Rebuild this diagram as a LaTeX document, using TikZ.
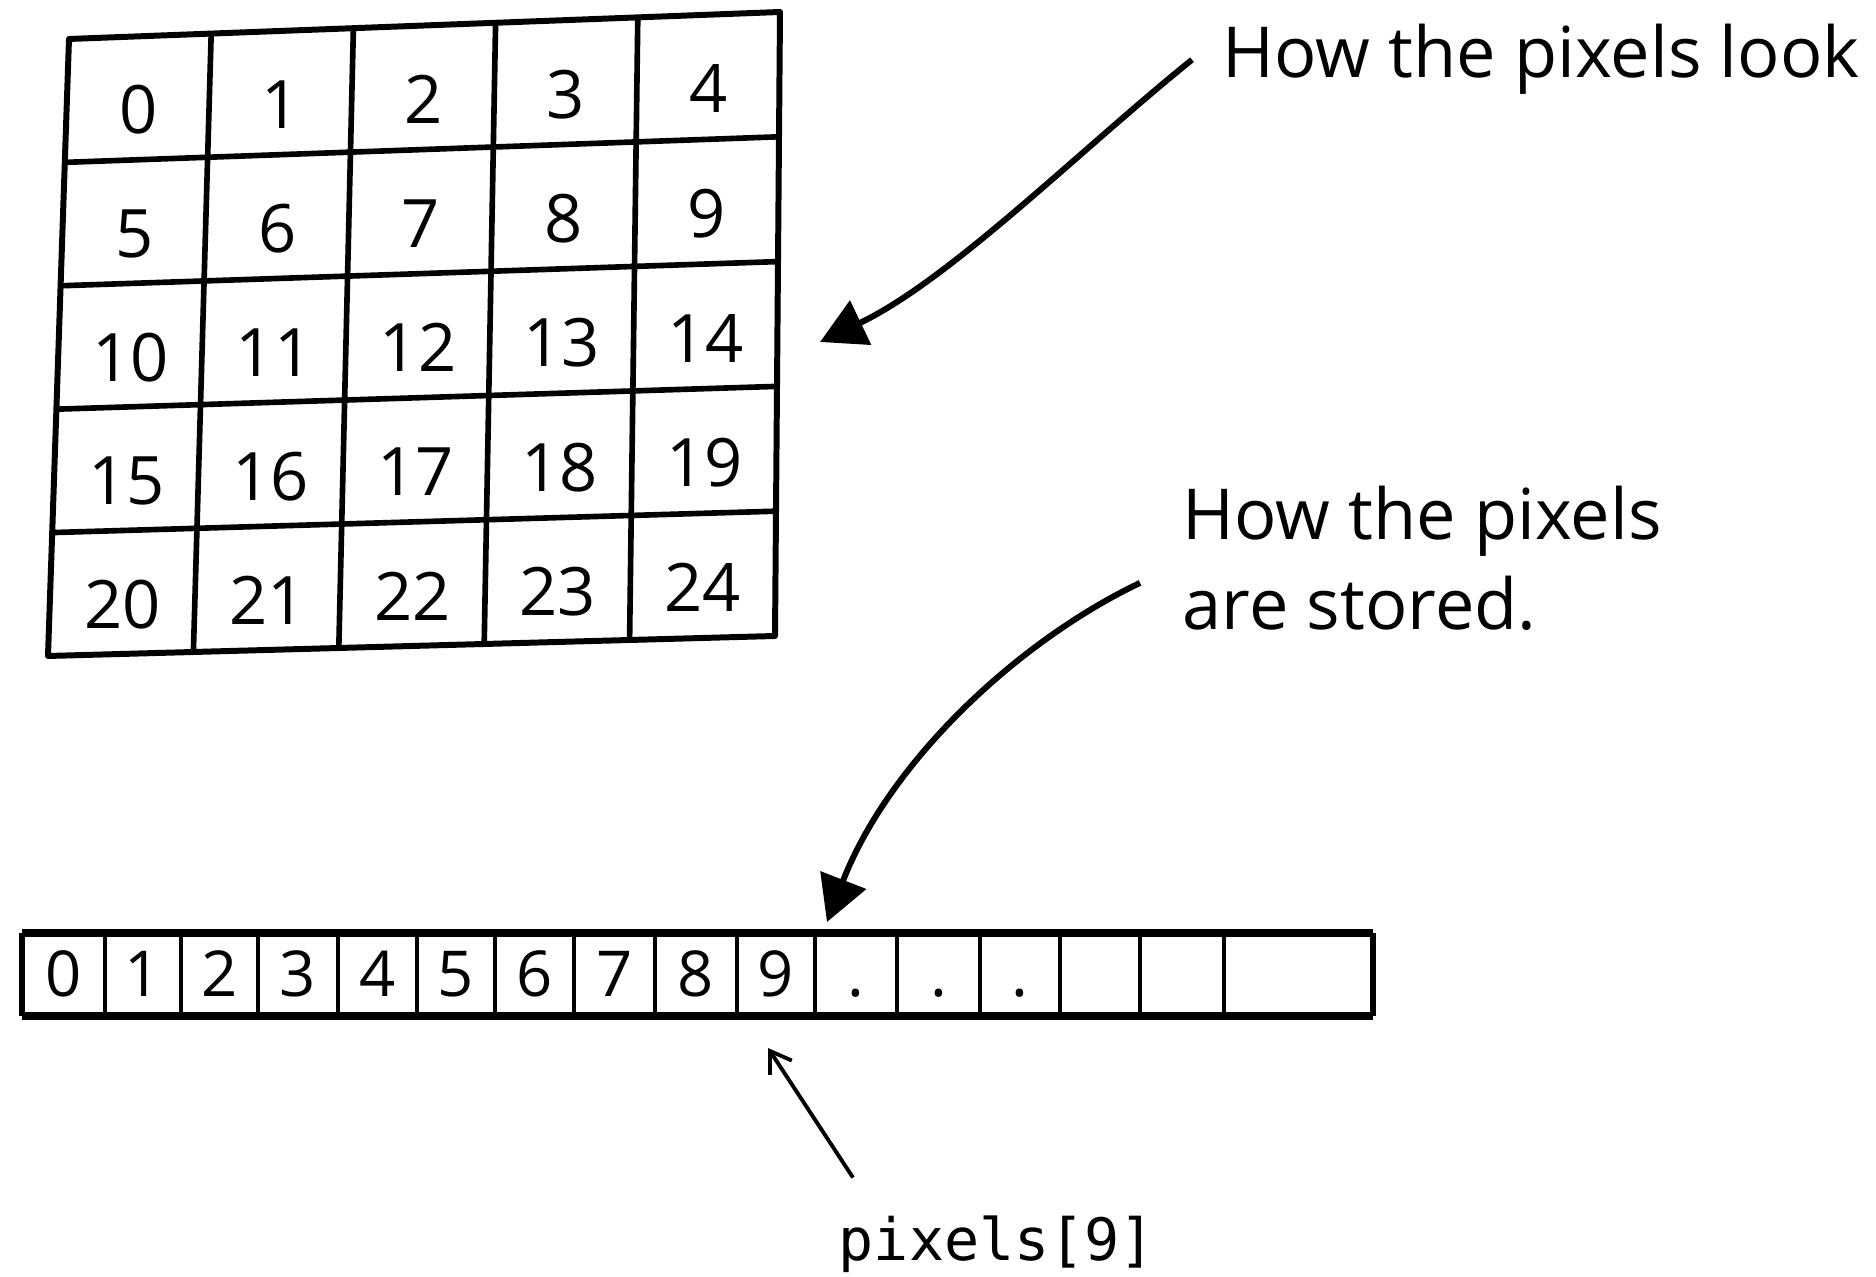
\documentclass[tikz,border=0pt]{standalone}
\usepackage{fontspec}
\setmainfont{Open Sans}
\newfontfamily\codefont{DejaVu Sans Mono}
\usetikzlibrary{calc,arrows.meta}

\begin{document}
\begin{tikzpicture}[x=0.01cm,y=-0.01cm,
        hand/.style={font=\fontsize{20}{25.6}\selectfont, inner sep=0pt},
        digit/.style={font=\fontsize{19}{22}\selectfont, inner sep=0pt},
        celldigit/.style={font=\fontsize{18}{21}\selectfont, inner sep=0pt, anchor=base},
        bigarrow/.style={-{Triangle[length=0.45cm,width=0.48cm]}, line width=1.7pt},
        smallarrow/.style={-{Straight Barb[length=0.2cm,width=0.26cm]}, line width=1.1pt}]
        \useasboundingbox (0,0) rectangle (1876,1277);

        \coordinate (TL) at (69,39);
        \coordinate (TR) at (780,12);
        \coordinate (BL) at (48,656);
        \coordinate (BR) at (775,636);

        \draw[line width=1.7pt, line join=round] (TL) -- (TR) -- (BR) -- (BL) -- cycle;
        \foreach \i in {1,...,4}{
            \draw[line width=1.6pt] ($(TL)!\i/5!(TR)$) -- ($(BL)!\i/5!(BR)$);
            \draw[line width=1.6pt] ($(TL)!\i/5!(BL)$) -- ($(TR)!\i/5!(BR)$);
        }
        \foreach \r in {0,...,4}{
            \foreach \c in {0,...,4}{
                \pgfmathtruncatemacro\n{5*\r+\c}
                \pgfmathsetmacro\u{(\c+0.5)/5}
                \pgfmathsetmacro\v{(\r+0.5)/5}
                \node (c\n) [digit, yshift=-0.12cm] at ($ ($(TL)!\u!(TR)$) !\v! ($(BL)!\u!(BR)$) $) {\n};
            }
        }

        \draw[line width=2.5pt] (22,933) -- (1373,933);
        \draw[line width=2.5pt] (22,1016) -- (1373,1016);
        \draw[line width=1.6pt] (22,933) -- (22,1016);
        \draw[line width=1.6pt] (1373,933) -- (1373,1016);
        \foreach \x in {105,181,258,338,417,495,574,655,737,815,897,980,1060,1140,1224}
            \draw[line width=1.1pt] (\x,933) -- (\x,1016);
        \foreach \l/\r/\t [count=\k from 0] in {22/105/0,105/181/1,181/258/2,258/338/3,338/417/4,
                417/495/5,495/574/6,574/655/7,655/737/8,737/815/9,815/897/.,897/980/.,980/1060/.}
            \node (a\k) [celldigit] at ({(\l+\r)/2},997) {\t};

        \node (look) [hand, anchor=base west] at (1222,78) {How the pixels look};
        \node (stored) [hand, anchor=north west, align=left] at (1182,485) {How the pixels\\are stored.};
        \node (idx) [anchor=base west, inner sep=0pt, font=\codefont\fontsize{16.6}{19}\selectfont] at (838,1260) {pixels[9]};

        \coordinate (looktip) at (820,342);
        \coordinate (storedtip) at (827,922);
        \coordinate (idxtip) at (768,1048);

        \draw[bigarrow] ([xshift=-0.3cm]look.west) .. controls (1080,150) and (950,280) .. (looktip);
        \draw[bigarrow] ([shift={(-42,25)}]stored.west) .. controls (1020,640) and (890,760) .. (storedtip);
        \draw[smallarrow] ([shift={(15,-37)}]idx.north west) -- (idxtip);
    \end{tikzpicture}
\end{document}
